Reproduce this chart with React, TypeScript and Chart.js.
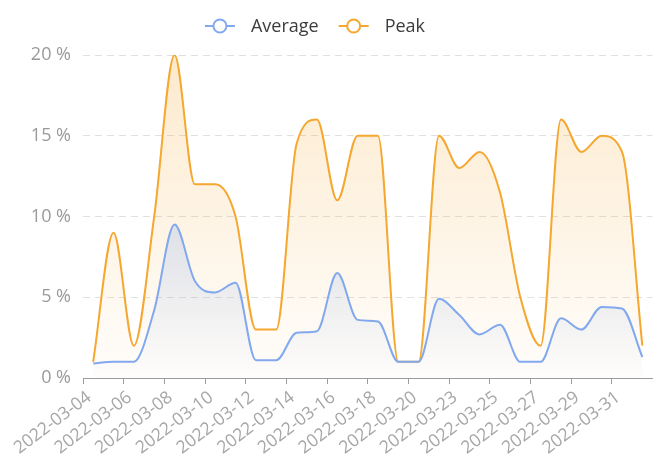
import React, { useEffect, useRef } from 'react';
import { Chart, registerables } from 'chart.js';

Chart.register(...registerables);

const categories = [
  '2022-03-04', '2022-03-05', '2022-03-06', '2022-03-07', '2022-03-08', '2022-03-09',
  '2022-03-10', '2022-03-11', '2022-03-12', '2022-03-13', '2022-03-14', '2022-03-15',
  '2022-03-16', '2022-03-17', '2022-03-18', '2022-03-19', '2022-03-20', '2022-03-21',
  '2022-03-23', '2022-03-24', '2022-03-25', '2022-03-26', '2022-03-27', '2022-03-28',
  '2022-03-29', '2022-03-30', '2022-03-31', '2022-04-01',
];

const averageValues = [
  0.9, 1.0, 1.0, 4.2, 9.5, 6.0, 5.3, 5.9, 1.1, 1.1, 2.8, 2.9, 6.5, 3.6,
  3.5, 1.0, 1.0, 4.9, 3.9, 2.7, 3.3, 1.0, 1.0, 3.7, 3.0, 4.4, 4.3, 1.3,
];

const peakValues = [
  1, 9, 2, 10, 20, 12, 12, 10, 3, 3, 14.5, 16, 11, 15,
  15, 1, 1, 15, 13, 14, 11.5, 5, 2, 16, 14, 15, 14, 2,
];

const yTicks = [0, 5, 10, 15, 20];

const seriesNames = ['Average', 'Peak'];

const BLUE = '#82a8ee';
const ORANGE = '#f5a72f';
const FONT = '"Open Sans", "Noto Sans", sans-serif';

const legendPlugin = {
  id: 'customLegend',
  afterDraw(chart: any) {
    const c = chart.ctx as CanvasRenderingContext2D;
    const colors = [BLUE, ORANGE];
    c.save();
    c.font = `18px ${FONT}`;
    const iconW = 30;
    const gapText = 16;
    const gapItems = 20;
    const widths = seriesNames.map((t) => iconW + gapText + c.measureText(t).width);
    const total = widths.reduce((a, b) => a + b, 0) + gapItems * (seriesNames.length - 1);
    let x = 315 - total / 2;
    const y = 26;
    seriesNames.forEach((name, i) => {
      const col = colors[i];
      c.strokeStyle = col;
      c.lineWidth = 2;
      c.beginPath();
      c.moveTo(x, y);
      c.lineTo(x + iconW, y);
      c.stroke();
      c.beginPath();
      c.arc(x + iconW / 2, y, 6.5, 0, Math.PI * 2);
      c.fillStyle = '#ffffff';
      c.fill();
      c.stroke();
      c.fillStyle = '#3c3c3c';
      c.textBaseline = 'middle';
      c.textAlign = 'left';
      c.fillText(name, x + iconW + gapText, y + 1);
      x += widths[i] + gapItems;
    });
    c.restore();
  },
};

function makeGradient(chart: any, topValue: number, rgb: string, a0: number, a1: number) {
  const { ctx, chartArea, scales } = chart;
  if (!chartArea) return `rgba(${rgb},${a0})`;
  const yTop = scales.y.getPixelForValue(topValue);
  const g = ctx.createLinearGradient(0, yTop, 0, chartArea.bottom);
  g.addColorStop(0, `rgba(${rgb},${a0})`);
  g.addColorStop(1, `rgba(${rgb},${a1})`);
  return g;
}

export default function App() {
  const canvasRef = useRef<HTMLCanvasElement | null>(null);

  useEffect(() => {
    if (!canvasRef.current) return;
    Chart.defaults.font.family = FONT;
    const chart = new Chart(canvasRef.current, {
      type: 'line',
      data: {
        labels: categories,
        datasets: [
          {
            label: seriesNames[0],
            data: averageValues,
            borderColor: BLUE,
            borderWidth: 2,
            pointRadius: 0,
            cubicInterpolationMode: 'monotone',
            fill: 'origin',
            backgroundColor: (ctx: any) => makeGradient(ctx.chart, Math.max(...averageValues), '130,168,238', 0.26, 0.0),
          },
          {
            label: seriesNames[1],
            data: peakValues,
            borderColor: ORANGE,
            borderWidth: 2,
            pointRadius: 0,
            cubicInterpolationMode: 'monotone',
            fill: 'origin',
            backgroundColor: (ctx: any) => makeGradient(ctx.chart, Math.max(...peakValues), '245,167,47', 0.24, 0.02),
          },
        ],
      },
      options: {
        animation: false,
        responsive: false,
        events: [],
        layout: { padding: { top: 55, right: 0, left: 0, bottom: 0 } },
        plugins: {
          legend: { display: false },
          tooltip: { enabled: false },
        },
        scales: {
          x: {
            type: 'category',
            offset: true,
            afterFit: (scale: any) => {
              scale.height = 86;
            },
            border: { display: true, color: '#9c9c9c', width: 1 },
            grid: {
              offset: true,
              drawOnChartArea: false,
              drawTicks: true,
              tickLength: 6,
              tickWidth: 1,
              tickColor: (ctx: any) => (ctx.index % 2 === 0 ? '#9c9c9c' : 'rgba(0,0,0,0)'),
            },
            ticks: {
              autoSkip: false,
              minRotation: 37,
              maxRotation: 37,
              padding: 3,
              labelOffset: -4,
              color: '#a6a6a6',
              font: { size: 17.5, family: FONT },
              callback: (_v: any, i: number) => (i % 2 === 0 ? categories[i] : ''),
            },
          },
          y: {
            min: yTicks[0],
            max: yTicks[yTicks.length - 1],
            afterFit: (scale: any) => {
              scale.width = 83;
            },
            afterBuildTicks: (scale: any) => {
              scale.ticks = yTicks.map((v) => ({ value: v }));
            },
            border: { display: false, dash: [7, 5] },
            grid: {
              drawTicks: false,
              color: (ctx: any) => (ctx.tick && ctx.tick.value === 0 ? 'rgba(0,0,0,0)' : '#e0e0e0'),
              lineWidth: 1,
            },
            ticks: {
              padding: 12,
              color: '#9a9a9a',
              font: { size: 18, family: FONT },
              callback: (v: any) => `${v} %`,
            },
          },
        },
      },
      plugins: [legendPlugin],
    } as any);
    return () => chart.destroy();
  }, []);

  return (
    <div style={{ position: 'absolute', left: 0, top: 0, width: 658, height: 464, background: '#ffffff' }}>
      <canvas ref={canvasRef} width={658} height={464} style={{ display: 'block' }} />
    </div>
  );
}
